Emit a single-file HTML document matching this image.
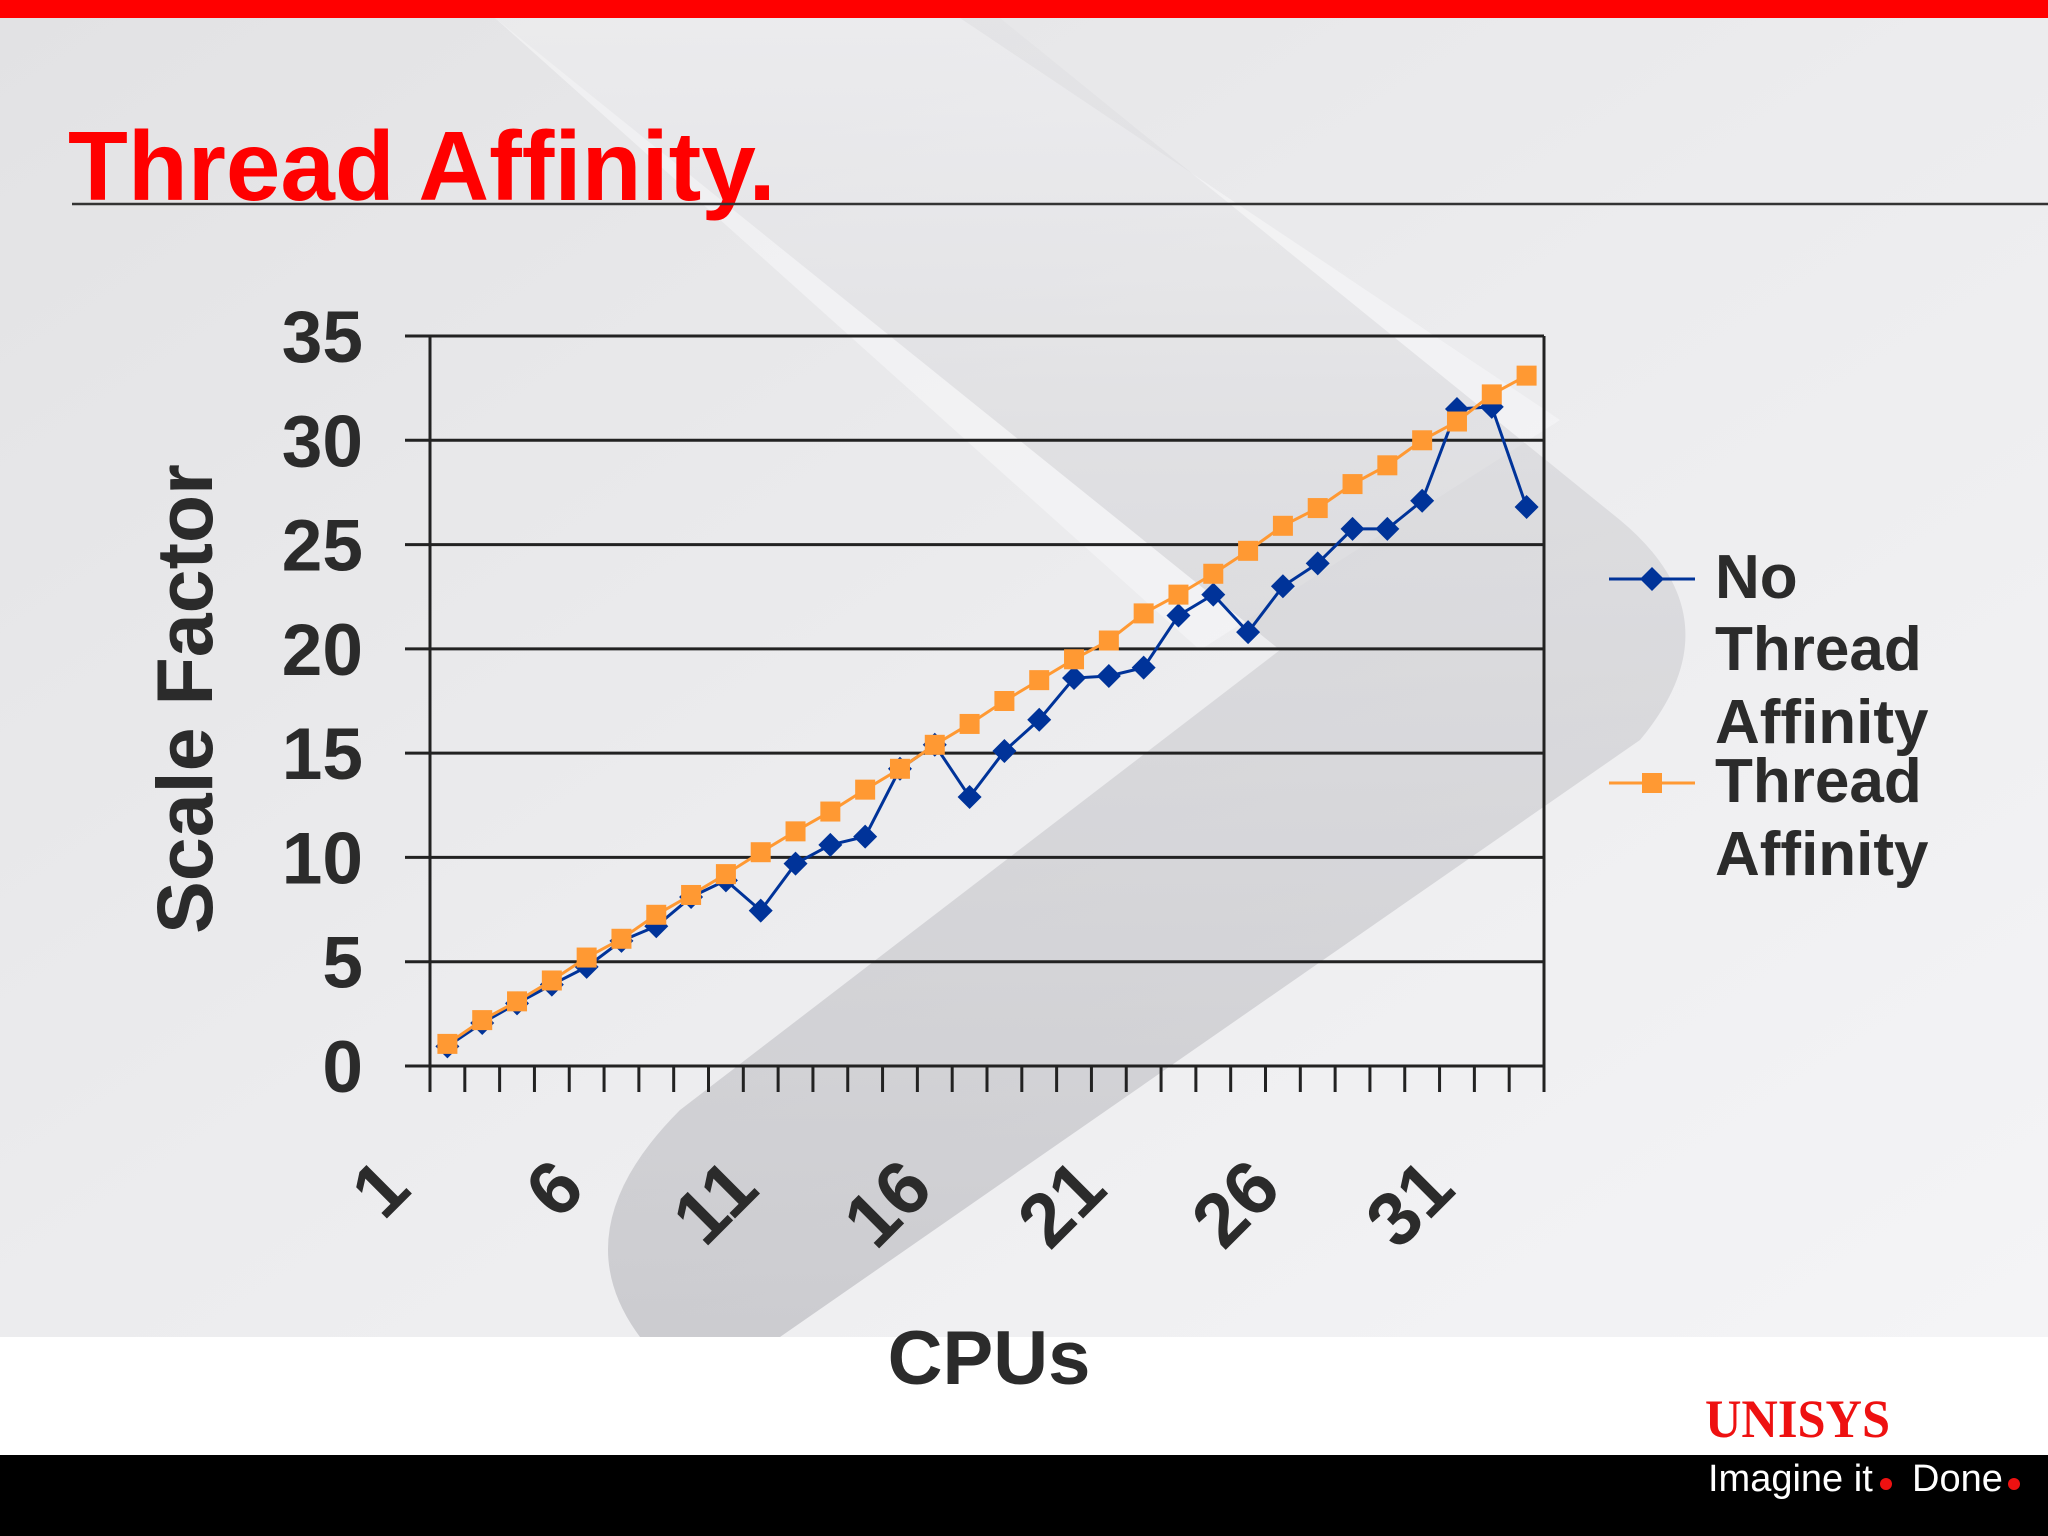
<!DOCTYPE html>
<html><head><meta charset="utf-8"><style>
html,body{margin:0;padding:0}
body{width:2048px;height:1536px;overflow:hidden;background:#ececee;font-family:"Liberation Sans",sans-serif}
svg{display:block}
</style></head><body>
<svg id="slide" width="2048" height="1536" viewBox="0 0 2048 1536" xmlns="http://www.w3.org/2000/svg">
<defs>
<linearGradient id="bg" x1="0" y1="0" x2="1" y2="1">
<stop offset="0" stop-color="#e2e2e4"/><stop offset="0.5" stop-color="#ececee"/><stop offset="1" stop-color="#f4f4f6"/>
</linearGradient>
<linearGradient id="band" x1="0" y1="0" x2="0" y2="1">
<stop offset="0" stop-color="#d0d0d4" stop-opacity="0.15"/><stop offset="0.35" stop-color="#c8c8cc" stop-opacity="0.45"/><stop offset="1" stop-color="#bdbdc2" stop-opacity="0.7"/>
</linearGradient>
</defs>
<rect x="0" y="0" width="2048" height="1337" fill="url(#bg)"/>
<path d="M495 18 L960 18 L1560 420 L1200 650 Z" fill="#f6f6f8" opacity="0.6"/>
<path d="M495 18 L1000 18 L1620 520 Q1740 620 1640 740 L780 1337 L640 1337 Q560 1230 680 1110 L1280 650 Z" fill="url(#band)"/>
<rect x="0" y="1337" width="2048" height="118" fill="#ffffff"/>
<rect x="0" y="1455" width="2048" height="81" fill="#000"/>
<rect x="0" y="0" width="2048" height="18" fill="#ff0000"/>
<text x="68" y="200" font-size="98" font-weight="bold" fill="#ff0000">Thread Affinity.</text>
<line x1="72" y1="204" x2="2048" y2="204" stroke="#333" stroke-width="2.5"/>
<g id="chart"></g>
<text transform="translate(212,699) rotate(-90)" text-anchor="middle" font-size="79" font-weight="bold" fill="#2b2b2b">Scale Factor</text>
<text x="989" y="1384" text-anchor="middle" font-size="76" font-weight="bold" fill="#2b2b2b">CPUs</text>
<g>
<g>
<line x1="1609" y1="579" x2="1695" y2="579" stroke="#003399" stroke-width="3"/>
<path d="M1652 567 L1664 579 L1652 591 L1640 579 Z" fill="#003399"/>
<text x="1715" y="598" font-size="62" font-weight="bold" fill="#2b2b2b">No</text>
<text x="1715" y="670" font-size="62" font-weight="bold" fill="#2b2b2b">Thread</text>
<text x="1715" y="743" font-size="62" font-weight="bold" fill="#2b2b2b">Affinity</text>
</g>
<g>
<line x1="1609" y1="783" x2="1695" y2="783" stroke="#ff9933" stroke-width="3"/>
<rect x="1642" y="773" width="20" height="20" fill="#ff9933"/>
<text x="1715" y="802" font-size="62" font-weight="bold" fill="#2b2b2b">Thread</text>
<text x="1715" y="875" font-size="62" font-weight="bold" fill="#2b2b2b">Affinity</text>
</g>
</g>
<text x="1705" y="1437" font-family="'Liberation Serif',serif" font-size="54" font-weight="bold" fill="#ee1111" textLength="185" lengthAdjust="spacingAndGlyphs">UNISYS</text>
<g>
<text x="1708" y="1491" font-size="38" fill="#fff">Imagine it</text>
<circle cx="1886" cy="1484" r="6" fill="#ee1111"/>
<text x="1912" y="1491" font-size="38" fill="#fff">Done</text>
<circle cx="2014" cy="1484" r="6" fill="#ee1111"/>
</g>
</svg>
<script>
const categories = [1,2,3,4,5,6,7,8,9,10,11,12,13,14,15,16,17,18,19,20,21,22,23,24,25,26,27,28,29,30,31,32];
const noAffinity = [0.94,2.06,3,3.9,4.75,6,6.7,8.1,8.9,7.45,9.7,10.6,11,14.25,15.4,12.9,15.1,16.6,18.6,18.7,19.1,21.6,22.6,20.8,23,24.1,25.75,25.75,27.1,31.5,31.6,26.8];
const threadAffinity = [1.06,2.2,3.1,4.1,5.2,6.1,7.25,8.2,9.2,10.25,11.25,12.2,13.25,14.25,15.4,16.4,17.5,18.5,19.5,20.4,21.7,22.6,23.6,24.7,25.9,26.75,27.9,28.8,30,30.9,32.2,33.1];
const yTicks = [0,5,10,15,20,25,30,35];
const xLabels = ["1","6","11","16","21","26","31"];

const NS = "http://www.w3.org/2000/svg";
const g = document.getElementById('chart');
const L = 430, R = 1544, T = 336, B = 1066, yMax = 35;
const n = categories.length, step = (R - L) / n;
const xPos = i => L + step * (i + 0.5);
const yPos = v => B - (v / yMax) * (B - T);
function mk(tag, attrs, parent) {
  const e = document.createElementNS(NS, tag);
  for (const k in attrs) e.setAttribute(k, attrs[k]);
  (parent || g).appendChild(e);
  return e;
}
yTicks.forEach(v => {
  const ln = mk('line', {x1: 405, x2: R, y1: yPos(v), y2: yPos(v), stroke: '#222', 'stroke-width': 3});
  
  
  const t = mk('text', {x: 363, y: yPos(v) + 26, 'text-anchor': 'end', 'font-size': 73, 'font-weight': 'bold', fill: '#2b2b2b'});
  t.textContent = v;
  
  
});
const ax = mk('line', {x1: L, x2: L, y1: T, y2: B + 26, stroke: '#222', 'stroke-width': 3});


const ax2 = mk('line', {x1: R, x2: R, y1: T, y2: B + 26, stroke: '#222', 'stroke-width': 3});


for (let i = 0; i <= n; i++) {
  const tk = mk('line', {x1: L + step * i, x2: L + step * i, y1: B, y2: B + 26, stroke: '#222', 'stroke-width': 3});
  
  
}
xLabels.forEach(lb => {
  const i = categories.indexOf(Number(lb));
  const x = xPos(i) - 34, y = 1192;
  const t = mk('text', {x: x, y: y, 'text-anchor': 'end', 'font-size': 76, 'font-weight': 'bold', fill: '#2b2b2b', transform: 'rotate(-45 ' + x + ' ' + y + ')'});
  t.textContent = lb;
  
  
});
function series(vals, color, name, marker) {
  const sg = mk('g', {});
  
  
  const pl = mk('polyline', {points: vals.map((v, i) => xPos(i) + ',' + yPos(v)).join(' '), fill: 'none', stroke: color, 'stroke-width': 3}, sg);
  
  
  vals.forEach((v, i) => {
    const x = xPos(i), y = yPos(v);
    let m;
    if (marker === 'diamond') m = mk('path', {d: `M${x} ${y-12} L${x+12} ${y} L${x} ${y+12} L${x-12} ${y} Z`, fill: color}, sg);
    else m = mk('rect', {x: x - 10, y: y - 10, width: 20, height: 20, fill: color}, sg);
    
    
  });
}
series(noAffinity, '#003399', 'series-no-thread-affinity', 'diamond');
series(threadAffinity, '#ff9933', 'series-thread-affinity', 'square');
</script>
</body></html>
